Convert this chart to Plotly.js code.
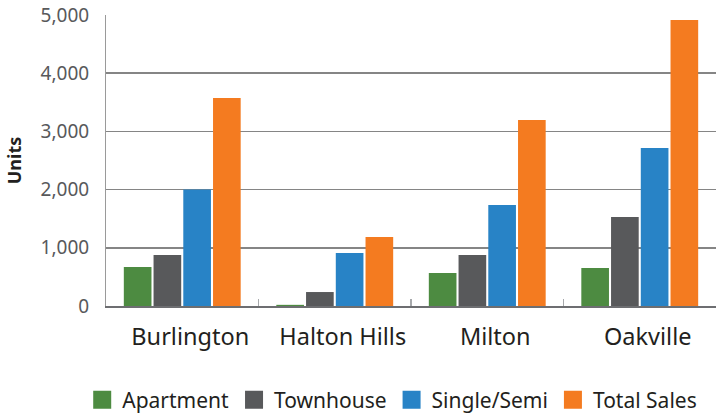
<!DOCTYPE html>
<html>
<head>
<meta charset="utf-8">
<script src="https://cdn.plot.ly/plotly-3.0.1.min.js"></script>
<style>
  body { margin: 0; background: #fff; }
  #chart { width: 717px; height: 415px; }
</style>
</head>
<body>
<div id="chart"></div>
<script>
var towns = ["Burlington", "Halton Hills", "Milton", "Oakville"];
var apartment = [670, 20, 565, 655];
var townhouse = [875, 240, 875, 1530];
var singleSemi = [2000, 910, 1735, 2715];
var totalSales = [3575, 1185, 3195, 4915];

var fontFam = "Noto Sans, Open Sans, sans-serif";

function makeBar(name, vals, color) {
  return {
    type: "bar",
    name: name,
    x: towns,
    y: vals,
    marker: { color: color },
    hoverinfo: "x+y+name",
  };
}

var data = [
  makeBar("Apartment", apartment, "#4d8b41"),
  makeBar("Townhouse", townhouse, "#58595b"),
  makeBar("Single/Semi", singleSemi, "#2883c6"),
  makeBar("Total Sales", totalSales, "#f47b20"),
];

var layout = {
  width: 717,
  height: 415,
  margin: { l: 106, r: 1, t: 15, b: 109, autoexpand: false },
  paper_bgcolor: "#fff",
  plot_bgcolor: "#fff",
  font: { family: fontFam, color: "#231f20" },
  barmode: "group",
  bargap: 0.22,
  bargroupgap: 0.07,
  showlegend: true,
  legend: {
    orientation: "h",
    x: -0.039,
    xanchor: "left",
    y: -0.323,
    yanchor: "middle",
    font: { size: 21, color: "#231f20" },
    itemwidth: 30,
    tracegroupgap: 0,
  },
  xaxis: {
    type: "category",
    showline: true,
    linecolor: "#6d6e71",
    linewidth: 1.5,
    ticks: "inside",
    tickson: "boundaries",
    ticklen: 7,
    tickcolor: "#a7a9ac",
    tickwidth: 1.5,
    ticklabelstandoff: 9,
    ticklabelshift: 8,
    tickfont: { size: 23.5, color: "#231f20" },
    showgrid: false,
    zeroline: false,
  },
  yaxis: {
    range: [0, 5000],
    dtick: 1000,
    tickformat: ",d",
    showline: true,
    linecolor: "#9a9a9a",
    linewidth: 1,
    showgrid: true,
    gridcolor: "#858585",
    gridwidth: 1.5,
    zeroline: false,
    ticks: "",
    ticklabelstandoff: 12,
    tickfont: { size: 19, color: "#58595b" },
    title: {
      text: "<b>Units</b>",
      font: { size: 18, color: "#231f20" },
      standoff: 14,
    },
  },
};

Plotly.newPlot("chart", data, layout, { displayModeBar: false, staticPlot: true }).then(function (gd) {
  // bigger legend swatches, like the original
  gd.querySelectorAll(".legendpoints path").forEach(function (p) {
    p.setAttribute("d", "M9,9H-9V-9H9Z");
  });
});
</script>
</body>
</html>
